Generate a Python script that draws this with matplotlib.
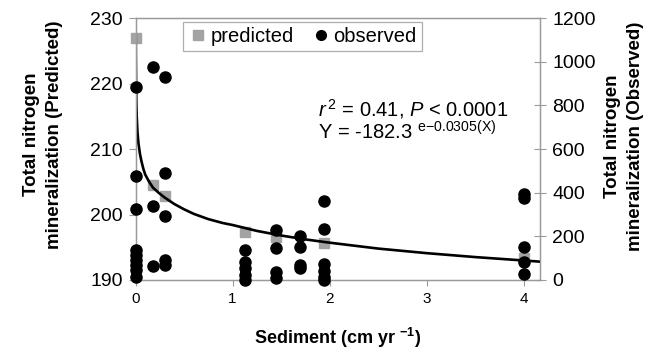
import matplotlib
matplotlib.use("Agg")
import matplotlib.pyplot as plt
from matplotlib.lines import Line2D

plt.rcParams['font.family'] = ['Liberation Sans', 'DejaVu Sans']
plt.rcParams['mathtext.fontset'] = 'custom'
plt.rcParams['mathtext.rm'] = 'Liberation Sans'
plt.rcParams['mathtext.it'] = 'Liberation Sans:italic'
plt.rcParams['mathtext.bf'] = 'Liberation Sans:bold'

# predicted values (left axis)
pred_x = [0, 0.18, 0.30, 1.13, 1.45, 1.94, 4.0]
pred_y = [227.0, 204.5, 202.8, 197.4, 196.6, 195.6, 193.3]

# observed values (right axis), grouped by sediment rate
obs_x = [0]*9 + [0.18]*3 + [0.30]*5 + [1.13]*5 + [1.45]*4 + [1.69]*4 + [1.94]*6 + [4.0]*5
obs_y = [885, 476, 325, 137, 115, 92, 69, 46, 14,
         976, 339, 64,
         931, 491, 293, 92, 69,
         137, 84, 53, 23, 0,
         229, 145, 38, 8,
         202, 153, 69, 54,
         362, 234, 73, 41, 14, 0,
         394, 374, 153, 84, 27]

# fitted trend line
fit_x = [0.002, 0.003, 0.005, 0.008, 0.012, 0.02, 0.03, 0.045, 0.06, 0.08, 0.1, 0.14, 0.18, 0.24, 0.3,
         0.4, 0.5, 0.6, 0.75, 0.9, 1.0, 1.25, 1.5, 1.75, 2.0, 2.5, 3.0, 3.5, 4.17]
fit_y = [227.5, 224.5, 220.5, 217.2, 215.0, 212.6, 210.9, 209.3, 208.2, 207.0, 206.1, 205.0, 204.1, 203.3, 202.6,
         201.6, 200.8, 200.1, 199.3, 198.7, 198.4, 197.5, 196.8, 196.2, 195.7, 194.8, 194.1, 193.5, 192.8]

fig = plt.figure(figsize=(6.58, 3.56), dpi=100)
ax = fig.add_axes([0.206, 0.2135, 0.615, 0.7355])
ax2 = ax.twinx()

ax.plot(pred_x, pred_y, "s", color="#a3a3a3", markersize=7, zorder=3, clip_on=False)
ax.plot(fit_x, fit_y, "-", color="black", linewidth=1.9, zorder=4)
ax2.plot(obs_x, obs_y, "o", color="black", markersize=8, zorder=5, clip_on=False)

ax.set_xlim(0, 4.17)
ax.set_ylim(190, 230)
ax2.set_ylim(0, 1200)
ax.set_xticks([0, 1, 2, 3, 4])
ax.set_yticks([190, 200, 210, 220, 230])
ax2.set_yticks([0, 200, 400, 600, 800, 1000, 1200])

for a in (ax, ax2):
    for s in a.spines.values():
        s.set_color("#9a9a9a")
        s.set_linewidth(0.9)
ax.tick_params(axis="y", direction="out", length=5, color="#9a9a9a", labelsize=14, pad=4)
ax.tick_params(axis="x", direction="out", length=4, color="#9a9a9a", labelsize=11, pad=5)
ax2.tick_params(axis="y", direction="inout", length=9, color="#9a9a9a", labelsize=14, pad=4)

ax.set_xlabel("Sediment (cm yr $^{\\mathbf{-1}}$)", fontsize=13, fontweight="bold")
ax.xaxis.set_label_coords(0.5, -0.175)
ax.set_ylabel("Total nitrogen\nmineralization (Predicted)", fontsize=13.5, fontweight="bold",
              linespacing=1.45)
ax.yaxis.set_label_coords(-0.18, 0.555)
ax2.set_ylabel("Total nitrogen\nmineralization (Observed)", fontsize=13.5, fontweight="bold",
               rotation=90, linespacing=1.45)
ax2.yaxis.set_label_coords(1.158, 0.55)

ax.text(0.45, 0.625, "$\\it{r}^{\\,2}$ = 0.41, $\\it{P}$ < 0.0001", transform=ax.transAxes, fontsize=14.5)
ax.text(0.45, 0.535, "Y = -182.3 $^{\\mathrm{e{-}0.0305(X)}}$", transform=ax.transAxes, fontsize=14.5)

handles = [Line2D([], [], marker="s", color="#a3a3a3", linestyle="none", markersize=7),
           Line2D([], [], marker="o", color="black", linestyle="none", markersize=7)]
leg = ax2.legend(handles, ["predicted", "observed"], ncol=2, loc="upper left",
                 bbox_to_anchor=(0.117, 0.985), borderaxespad=0, frameon=True, fancybox=False,
                 fontsize=14.5, handletextpad=0.15, columnspacing=0.8, handlelength=1.0,
                 borderpad=0.25)
leg.get_frame().set_edgecolor("#9a9a9a")
leg.get_frame().set_linewidth(0.9)

fig.savefig("out.png", dpi=100)
